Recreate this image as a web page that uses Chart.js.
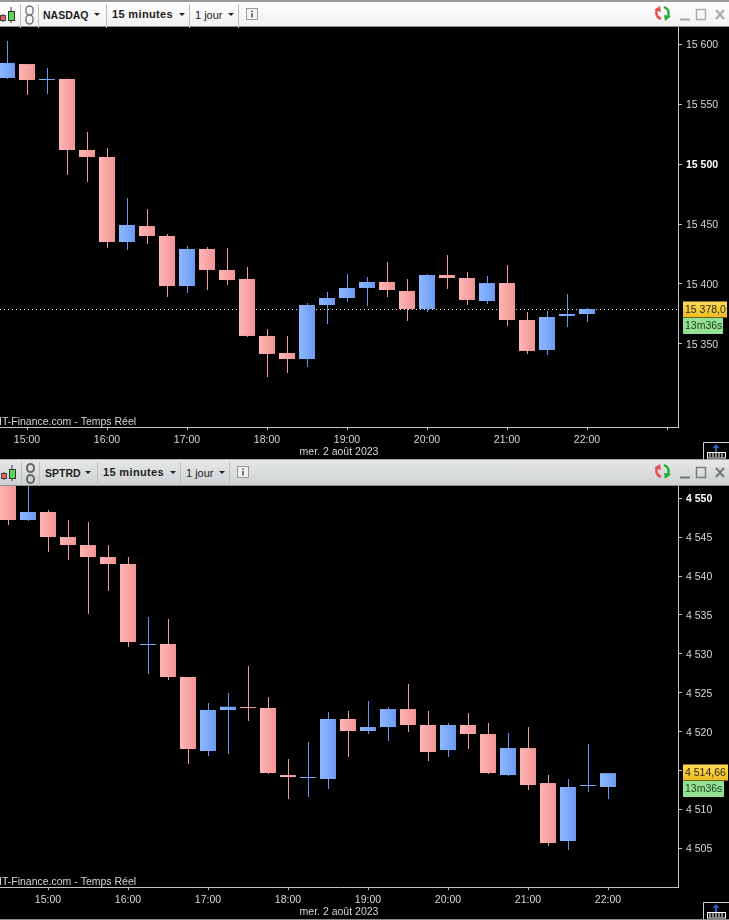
<!DOCTYPE html>
<html>
<head>
<meta charset="utf-8">
<title>NASDAQ / SPTRD 15 minutes</title>
<script src="https://cdn.jsdelivr.net/npm/chart.js@4/dist/chart.umd.min.js"></script>
<style>
  html, body { margin: 0; padding: 0; background: #000; }
  body { position: relative; width: 729px; height: 920px; overflow: hidden; font-family: "Liberation Sans", Arial, sans-serif; }
  canvas { position: absolute; left: 0; display: block; }
  .bar { position: absolute; left: 0; width: 729px; height: 27px; box-sizing: border-box; border-bottom: 1px solid #8e8e8e; color: #1c1c1c; }
  .bar span { position: absolute; top: 7px; font-size: 11px; line-height: 13px; white-space: nowrap; }
  .bar span.tf { top: 6px; }
  .bar b { letter-spacing: .35px; }
  .bar b.sym { font-size: 10.5px; letter-spacing: 0; }
  .bar i { position: absolute; top: 2px; width: 1px; height: 24px; background: #bdbdbd; }
  .bar u { position: absolute; top: 11px; width: 0; height: 0; border-left: 3px solid transparent; border-right: 3px solid transparent; border-top: 3px solid #222; }
  .bar svg, .corner { position: absolute; }
  #bar1 { top: 0; border-top: 2px solid #9a9a9a; background: linear-gradient(#ffffff, #f1f1f1); }
  #bar2 { top: 459px; border-top: 1px solid #a8a8a8; background: linear-gradient(#e6e8e8, #cfd2d2); }
  #foot { position: absolute; left: 0; top: 919px; width: 729px; height: 1px; background: #8a8a8a; }
</style>
</head>
<body>

<div class="bar" id="bar1">
  <svg style="left:0;top:2px" width="18" height="22"><path d="M3 10v8M11 3v16" stroke="#333"/><rect x="0.5" y="11.5" width="5" height="5" fill="#e86060" stroke="#444"/><rect x="8.5" y="7.5" width="6" height="9" fill="#55d855" stroke="#333"/></svg>
  <i style="left:20px"></i>
  <svg style="left:24px;top:2px" width="12" height="22"><rect x="2" y="2" width="7" height="9" rx="3.5" fill="none" stroke="#777" stroke-width="1.4"/><rect x="2" y="11" width="7" height="9" rx="3.5" fill="none" stroke="#777" stroke-width="1.4"/></svg>
  <i style="left:38px"></i>
  <span style="left:43px"><b class="sym">NASDAQ</b></span><u style="left:94px"></u>
  <i style="left:106px"></i>
  <span class="tf" style="left:112px"><b>15 minutes</b></span><u style="left:179px"></u>
  <i style="left:189px"></i>
  <span style="left:195px">1 jour</span><u style="left:228px"></u>
  <i style="left:238px"></i>
  <svg style="left:246px;top:6px" width="13" height="13"><rect x="0.5" y="0.5" width="11" height="11" fill="#f4f4f4" stroke="#999"/><path d="M6 2.5v1.5M6 5v4.5" stroke="#777" stroke-width="2"/></svg>
  <svg style="left:653px;top:2px" width="19" height="21"><path d="M8 15C3 13 2 8 5 5" fill="none" stroke="#e85050" stroke-width="2.4"/><path d="M1 6l6-4 1 6z" fill="#e85050"/><path d="M11 3c5 2 6 7 3 11" fill="none" stroke="#20b030" stroke-width="2.4"/><path d="M18 12l-6 5-1-6z" fill="#20b030"/></svg>
  <svg style="left:679px;top:6px" width="46" height="14"><path d="M1 11.5h10" stroke="#a8a8a8" stroke-width="2"/><rect x="17.5" y="1.5" width="9" height="10" fill="none" stroke="#a8a8a8" stroke-width="1.4"/><path d="M37 2l8 9M45 2l-8 9" stroke="#a8a8a8" stroke-width="2"/></svg>
</div>

<div class="bar" id="bar2">
  <svg style="left:0;top:2px" width="18" height="22"><path d="M4 10v8M12 3v16" stroke="#333"/><rect x="1.5" y="11.5" width="5" height="5" fill="#e86060" stroke="#444"/><rect x="9.5" y="7.5" width="6" height="9" fill="#55d855" stroke="#333"/></svg>
  <i style="left:21px"></i>
  <svg style="left:25px;top:2px" width="12" height="22"><rect x="2" y="2" width="7" height="8" rx="3.5" fill="none" stroke="#666" stroke-width="2"/><rect x="2" y="13" width="7" height="8" rx="3.5" fill="none" stroke="#666" stroke-width="2"/></svg>
  <i style="left:39px"></i>
  <span style="left:45px"><b class="sym">SPTRD</b></span><u style="left:85px"></u>
  <i style="left:97px"></i>
  <span class="tf" style="left:103px"><b>15 minutes</b></span><u style="left:170px"></u>
  <i style="left:180px"></i>
  <span style="left:186px">1 jour</span><u style="left:219px"></u>
  <i style="left:229px"></i>
  <svg style="left:237px;top:6px" width="13" height="13"><rect x="0.5" y="0.5" width="11" height="11" fill="#f0f0f0" stroke="#999"/><path d="M6 2.5v1.5M6 5v4.5" stroke="#777" stroke-width="2"/></svg>
  <svg style="left:653px;top:2px" width="19" height="21"><path d="M8 15C3 13 2 8 5 5" fill="none" stroke="#e85050" stroke-width="2.4"/><path d="M1 6l6-4 1 6z" fill="#e85050"/><path d="M11 3c5 2 6 7 3 11" fill="none" stroke="#20b030" stroke-width="2.4"/><path d="M18 12l-6 5-1-6z" fill="#20b030"/></svg>
  <svg style="left:679px;top:6px" width="46" height="14"><path d="M1 11.5h10" stroke="#777" stroke-width="2"/><rect x="17.5" y="1.5" width="9" height="10" fill="none" stroke="#777" stroke-width="1.4"/><path d="M37 2l8 9M45 2l-8 9" stroke="#777" stroke-width="2"/></svg>
</div>

<canvas id="nasdaq-chart" width="729" height="432" style="top:27px"></canvas>
<canvas id="sptrd-chart" width="729" height="434" style="top:486px"></canvas>

<svg class="corner" style="left:703px;top:442px" width="26" height="17"><path d="M.5 17V.5H26" fill="none" stroke="#cfcfcf"/><path d="M13 2l-3.5 4h2.5v4h2V6h2.5z" fill="#2a5fc0"/><rect x="4.5" y="10.5" width="18" height="5.5" fill="#111" stroke="#fff"/><path d="M7 11v4M10 11v4M13 11v4M16 11v4M19 11v4" stroke="#fff"/></svg>
<svg class="corner" style="left:703px;top:902px" width="26" height="17"><path d="M.5 17V.5H26" fill="none" stroke="#cfcfcf"/><path d="M13 2l-3.5 4h2.5v4h2V6h2.5z" fill="#2a5fc0"/><rect x="4.5" y="10.5" width="18" height="5.5" fill="#111" stroke="#fff"/><path d="M7 11v4M10 11v4M13 11v4M16 11v4M19 11v4" stroke="#fff"/></svg>
<div id="foot"></div>

<script>
const FONT = '"Liberation Sans", Arial, sans-serif';
const DATE_LABEL = 'mer. 2 août 2023';
const SOURCE_LABEL = 'IT-Finance.com - Temps Réel';
const COUNTDOWN = '13m36s';
const HOUR_LABELS = ['15:00', '16:00', '17:00', '18:00', '19:00', '20:00', '21:00', '22:00', ''];

// NASDAQ, 15 minute candles
const nasdaqTimes = ['14:45', '15:00', '15:15', '15:30', '15:45', '16:00', '16:15', '16:30', '16:45', '17:00',
  '17:15', '17:30', '17:45', '18:00', '18:15', '18:30', '18:45', '19:00', '19:15', '19:30',
  '19:45', '20:00', '20:15', '20:30', '20:45', '21:00', '21:15', '21:30', '21:45', '22:00'];
const nasdaqOpen = [15571.7, 15583.3, 15570.0, 15570.8, 15511.7, 15505.8, 15435.0, 15448.3, 15440.0, 15398.3,
  15429.2, 15411.7, 15404.2, 15356.7, 15342.5, 15337.5, 15382.5, 15388.3, 15396.7, 15401.7,
  15394.2, 15379.2, 15407.5, 15405.0, 15385.8, 15400.8, 15370.0, 15345.0, 15373.3, 15375.0];
const nasdaqHigh = [15602.5, 15583.3, 15580.0, 15571.2, 15526.7, 15513.3, 15471.7, 15462.5, 15441.7, 15431.7,
  15430.8, 15430.0, 15414.2, 15362.5, 15356.7, 15384.2, 15393.3, 15408.3, 15405.8, 15418.3,
  15404.2, 15408.3, 15424.2, 15410.0, 15406.7, 15415.8, 15376.7, 15377.5, 15391.7, 15380.0];
const nasdaqLow = [15570.8, 15557.5, 15558.3, 15490.8, 15485.0, 15430.0, 15428.3, 15433.3, 15389.2, 15392.5,
  15395.0, 15399.2, 15355.8, 15322.5, 15325.8, 15330.8, 15366.7, 15385.0, 15381.7, 15389.2,
  15369.2, 15376.7, 15395.8, 15382.5, 15383.3, 15365.0, 15341.7, 15340.8, 15364.2, 15368.3];
const nasdaqClose = [15584.2, 15570.0, 15570.8, 15511.7, 15505.8, 15435.0, 15449.2, 15440.0, 15398.3, 15429.2,
  15411.7, 15403.3, 15356.7, 15341.7, 15337.5, 15382.5, 15388.3, 15396.7, 15401.7, 15395.0,
  15379.2, 15407.5, 15405.0, 15386.7, 15400.8, 15370.0, 15344.2, 15372.5, 15375.0, 15379.2];
const nasdaqTicks = [15350, 15400, 15450, 15500, 15550, 15600];
const nasdaqHourIndex = [1, 5, 9, 13, 17, 21, 25, 29, 33];

// SPTRD, 15 minute candles
const sptrdTimes = ['14:30', '14:45', '15:00', '15:15', '15:30', '15:45', '16:00', '16:15', '16:30', '16:45',
  '17:00', '17:15', '17:30', '17:45', '18:00', '18:15', '18:30', '18:45', '19:00', '19:15', '19:30',
  '19:45', '20:00', '20:15', '20:30', '20:45', '21:00', '21:15', '21:30', '21:45', '22:00'];
const sptrdOpen = [4553, 4547.20, 4548.23, 4545.01, 4543.98, 4542.44, 4541.54, 4531.13, 4531.26, 4527.02,
  4517.51, 4522.78, 4523.16, 4523.03, 4514.42, 4514.04, 4513.91, 4521.62, 4520.08, 4520.59, 4522.90,
  4520.85, 4517.63, 4520.85, 4519.69, 4514.42, 4517.89, 4513.39, 4505.94, 4513.01, 4512.88];
const sptrdHigh = [4554, 4552.5, 4548.48, 4547.20, 4546.94, 4543.98, 4542.44, 4534.73, 4534.47, 4527.02,
  4523.68, 4524.96, 4528.43, 4524.45, 4516.48, 4518.66, 4522.52, 4522.65, 4523.93, 4523.16, 4526.12,
  4522.65, 4521.11, 4522.39, 4521.11, 4519.82, 4520.59, 4514.42, 4513.91, 4518.41, 4514.68];
const sptrdLow = [4546.56, 4547.07, 4543.08, 4542.06, 4535.12, 4538.07, 4530.87, 4527.40, 4526.63, 4515.84,
  4516.86, 4517.12, 4521.36, 4514.55, 4511.34, 4511.59, 4512.62, 4516.74, 4519.69, 4518.79, 4519.95,
  4516.22, 4516.74, 4517.76, 4514.55, 4514.29, 4512.49, 4505.30, 4504.78, 4512.24, 4511.34];
const sptrdClose = [4547.20, 4548.23, 4545.01, 4543.98, 4542.44, 4541.54, 4531.52, 4531.26, 4527.02, 4517.76,
  4522.78, 4523.20, 4523.03, 4514.68, 4514.16, 4514.16, 4521.62, 4520.08, 4520.59, 4522.90, 4520.85,
  4517.38, 4520.85, 4519.69, 4514.68, 4517.89, 4513.14, 4505.68, 4512.88, 4513.14, 4514.66];
const sptrdTicks = [4505, 4510, 4515, 4520, 4525, 4530, 4535, 4540, 4545, 4550];
const sptrdHourIndex = [2, 6, 10, 14, 18, 22, 26, 30];

const makeGradient = (ctx, colors) => {
  if (ctx.type !== 'data' || !ctx.parsed) return colors[0];
  const x = ctx.chart.scales.x.getPixelForValue(ctx.parsed.x);
  // the scale has no pixels yet on the first pass
  if (!Number.isFinite(x)) return colors[0];
  const gradient = ctx.chart.ctx.createLinearGradient(x - 8, 0, x + 8, 0);
  gradient.addColorStop(0, colors[0]);
  gradient.addColorStop(1, colors[1]);
  return gradient;
};

// price line, last price tag, countdown and the data source text
const overlayPlugin = {
  id: 'overlay',
  beforeDatasetsDraw(chart, args, opts) {
    if (!opts.priceLine) return;
    const { ctx, chartArea } = chart;
    const y = Math.round(chart.scales.y.getPixelForValue(opts.price)) - 0.5;
    ctx.save();
    ctx.strokeStyle = '#e8e8e8';
    ctx.setLineDash([1, 3]);
    ctx.beginPath();
    ctx.moveTo(0, y);
    ctx.lineTo(chartArea.right, y);
    ctx.stroke();
    ctx.restore();
  },
  afterDraw(chart, args, opts) {
    const { ctx } = chart;
    const y = Math.round(chart.scales.y.getPixelForValue(opts.price)) - 0.5;
    ctx.save();
    ctx.textBaseline = 'middle';
    ctx.font = `10.5px ${FONT}`;
    ctx.fillStyle = '#d6d6d6';
    ctx.fillText(SOURCE_LABEL, -1, opts.sourceY);

    const gold = ctx.createLinearGradient(0, y - 8, 0, y + 8);
    gold.addColorStop(0, '#ffdb55');
    gold.addColorStop(1, '#eebb22');
    ctx.fillStyle = gold;
    ctx.fillRect(683, y - 8, opts.tagWidth, 16);
    ctx.fillStyle = '#2a2a20';
    ctx.fillText(opts.priceLabel, 685, y + 0.5);

    ctx.fillStyle = '#93e293';
    ctx.fillRect(683, y + 8.5, opts.tagWidth - 4, 16);
    ctx.fillStyle = '#1c3a1c';
    ctx.fillText(COUNTDOWN, 685, y + 17);
    ctx.restore();
  }
};

const candleChart = (canvasId, series, layout) => {
  const { times, open, high, low, close, ticks, hourIndex } = series;
  const isUp = (i) => close[i] >= open[i];
  const bodies = times.map((t, i) => ({ x: i, y: [open[i], close[i]] }));
  const wicks = times.map((t, i) => ({ x: i, y: [low[i], high[i]] }));

  const setTicks = (scale, values) => { scale.ticks = values.map((value) => ({ value })); };
  const range = layout.xMax - layout.xMin;
  const halfPixel = 0.5 * range / 678;

  return new Chart(document.getElementById(canvasId), {
    type: 'bar',
    data: {
      datasets: [
        {
          label: 'wick',
          data: wicks,
          xAxisID: 'xWick',
          order: 2,
          barThickness: 1,
          inflateAmount: 0,
          grouped: false,
          backgroundColor: (ctx) => (ctx.type === 'data' && isUp(ctx.dataIndex) ? '#6a94f5' : '#f59a9a')
        },
        {
          label: 'body',
          data: bodies,
          order: 1,
          barThickness: 16,
          minBarLength: 1,
          inflateAmount: 0,
          grouped: false,
          backgroundColor: (ctx) => makeGradient(ctx, ctx.type === 'data' && isUp(ctx.dataIndex)
            ? ['#8db8ff', '#6c9af2']
            : ['#ffb6b6', '#f29494'])
        }
      ]
    },
    options: {
      responsive: false,
      animation: false,
      events: [],
      layout: { padding: 0 },
      plugins: {
        legend: { display: false },
        tooltip: { enabled: false },
        overlay: layout.overlay
      },
      scales: {
        x: {
          type: 'linear',
          offset: false,
          min: layout.xMin,
          max: layout.xMax,
          afterBuildTicks: (scale) => setTicks(scale, hourIndex),
          afterFit: (scale) => {
            scale.height = layout.axisHeight;
            scale.paddingLeft = 0;
            scale.paddingRight = 0;
          },
          border: { color: '#c4c4c4' },
          grid: { offset: false, drawOnChartArea: false, tickLength: 3, color: '#c4c4c4' },
          ticks: {
            autoSkip: false,
            maxRotation: 0,
            padding: 4,
            color: '#d6d6d6',
            font: { family: FONT, size: 10.5 },
            callback: (value, index) => HOUR_LABELS[index]
          },
          title: {
            display: true,
            text: DATE_LABEL,
            color: '#d6d6d6',
            font: { family: FONT, size: 10.5 },
            padding: { top: 0, bottom: layout.dateGap }
          }
        },
        xWick: {
          type: 'linear',
          display: false,
          offset: false,
          grid: { offset: false },
          min: layout.xMin - halfPixel,
          max: layout.xMax - halfPixel
        },
        y: {
          position: 'right',
          min: layout.yMin,
          max: layout.yMax,
          afterBuildTicks: (scale) => setTicks(scale, ticks),
          afterFit: (scale) => {
            scale.width = 51;
            scale.paddingTop = 0;
            scale.paddingBottom = 0;
          },
          border: { color: '#c4c4c4' },
          grid: { drawOnChartArea: false, tickLength: 4, color: '#c4c4c4' },
          ticks: {
            autoSkip: false,
            padding: 4,
            labelOffset: 1,
            color: (ctx) => (ctx.tick.value === layout.boldTick ? '#ffffff' : '#d6d6d6'),
            font: (ctx) => ({
              family: FONT,
              size: 10.5,
              weight: ctx.tick && ctx.tick.value === layout.boldTick ? 'bold' : 'normal'
            }),
            callback: (value) => String(value).replace(/(\d{3})$/, ' $1')
          }
        }
      }
    },
    plugins: [overlayPlugin]
  });
};

candleChart('nasdaq-chart',
  { times: nasdaqTimes, open: nasdaqOpen, high: nasdaqHigh, low: nasdaqLow, close: nasdaqClose, ticks: nasdaqTicks, hourIndex: nasdaqHourIndex },
  {
    xMin: -0.35, xMax: 33.55,
    yMin: 15280.83, yMax: 15614.17,
    axisHeight: 32,
    dateGap: 1,
    boldTick: 15500,
    overlay: { price: 15378, priceLabel: '15 378,0', priceLine: true, tagWidth: 44, sourceY: 395 }
  });

candleChart('sptrd-chart',
  { times: sptrdTimes, open: sptrdOpen, high: sptrdHigh, low: sptrdLow, close: sptrdClose, ticks: sptrdTicks, hourIndex: sptrdHourIndex },
  {
    xMin: -0.4, xMax: 33.5,
    yMin: 4500.03, yMax: 4551.57,
    axisHeight: 33,
    dateGap: 2,
    boldTick: 4550,
    overlay: { price: 4514.66, priceLabel: '4 514,66', priceLine: false, tagWidth: 45, sourceY: 396 }
  });
</script>
</body>
</html>
